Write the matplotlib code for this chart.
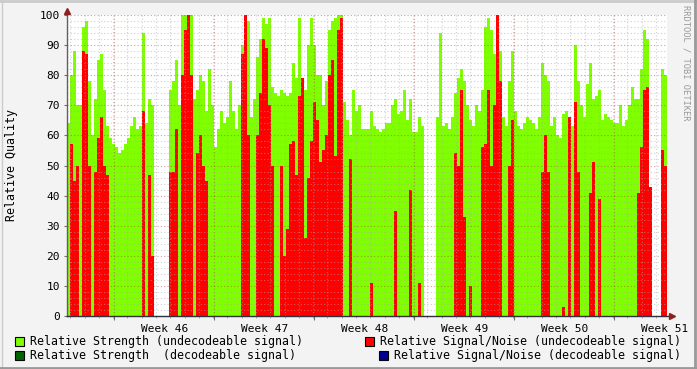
import numpy as np
import matplotlib
matplotlib.use('Agg')
import matplotlib.pyplot as plt
from matplotlib.patches import Rectangle
from matplotlib.lines import Line2D
import matplotlib.transforms as mtransforms

nan = np.nan

# Relative Strength (undecodeable signal), one value per ~5h bin
strength_undec = [
    64, 80, 88, 70, 70, 96, 98, 78, 60, 72,
    85, 87, 75, 63, 59, 57, 56, 54, 55, 57,
    59, 63, 66, 62, 63, 94, 64, 72, 70, nan,
    nan, nan, nan, nan, 75, 78, 85, 70, 100, 100,
    100, 100, 72, 75, 80, 78, 68, 82, 70, 56,
    62, 68, 64, 66, 78, 68, 62, 70, 90, 100,
    98, 66, 72, 86, 92, 99, 97, 99, 76, 74,
    73, 75, 74, 73, 74, 84, 79, 99, 79, 75,
    90, 99, 90, 80, 80, 70, 78, 95, 98, 99,
    100, 100, 71, 65, 60, 75, 68, 70, 62, 62,
    62, 68, 63, 62, 61, 62, 64, 64, 70, 72,
    67, 68, 75, 65, 72, 61, 61, 66, 63, nan,
    nan, nan, nan, 66, 94, 63, 64, 62, 66, 74,
    79, 82, 78, 70, 65, 63, 70, 68, 75, 96,
    99, 95, 87, 100, 88, 66, 63, 78, 88, 68,
    63, 62, 64, 66, 65, 64, 62, 66, 84, 80,
    78, 63, 66, 60, 59, 67, 68, 62, 63, 90,
    78, 70, 66, 77, 84, 72, 73, 75, 65, 67,
    66, 65, 64, 64, 70, 63, 65, 70, 76, 72,
    72, 82, 95, 92, 43, nan, nan, nan, 82, 80,
]

# Relative Signal/Noise (undecodeable signal)
snr_undec = [
    0, 57, 45, 50, 0, 88, 87, 50, 0, 48,
    59, 66, 50, 47, 0, 0, 0, 0, 0, 0,
    0, 0, 0, 0, 0, 68, 0, 47, 20, 0,
    0, 0, 0, 0, 48, 48, 62, 0, 80, 95,
    100, 80, 0, 54, 60, 50, 45, 0, 0, 0,
    0, 0, 0, 0, 0, 0, 0, 0, 87, 100,
    60, 0, 0, 60, 74, 92, 89, 70, 50, 0,
    0, 50, 20, 29, 57, 58, 47, 73, 79, 26,
    46, 58, 71, 65, 51, 55, 60, 80, 85, 53,
    95, 99, 0, 0, 52, 0, 0, 0, 0, 0,
    0, 11, 0, 0, 0, 0, 0, 0, 0, 35,
    0, 0, 0, 0, 42, 0, 0, 11, 0, 0,
    0, 0, 0, 0, 0, 0, 0, 0, 0, 54,
    50, 75, 33, 0, 10, 0, 0, 0, 56, 57,
    75, 50, 70, 100, 78, 0, 0, 50, 65, 0,
    0, 0, 0, 0, 0, 0, 0, 0, 48, 60,
    48, 0, 0, 0, 0, 3, 0, 66, 0, 71,
    48, 0, 0, 0, 41, 51, 0, 39, 0, 0,
    0, 0, 0, 0, 0, 0, 0, 0, 0, 0,
    41, 56, 75, 76, 43, 0, 0, 0, 55, 50,
]

week_labels = ['Week 46', 'Week 47', 'Week 48', 'Week 49', 'Week 50', 'Week 51']
legend_labels = [
    'Relative Strength (undecodeable signal)',
    'Relative Signal/Noise (undecodeable signal)',
    'Relative Strength  (decodeable signal)',
    'Relative Signal/Noise (decodeable signal)',
]

SPAN_DAYS = 42.0
FIRST_WEEK_LABEL = 6.86   # days from left edge
FIRST_MAJOR_GRID = 3.27
FIRST_MINOR_GRID = 0.23

BACK = '#f3f3f3'
GREEN = '#80ff00'
RED = '#ff0000'
DGREEN = '#006400'
BLUE = '#000090'
ARROW = '#8b2020'
MONO = 'DejaVu Sans Mono'

plt.rcParams['font.family'] = MONO

fig = plt.figure(figsize=(6.97, 3.69), dpi=100, facecolor=BACK)
ax = fig.add_axes([67 / 697, 53 / 369, 600 / 697, 301 / 369])
ax.set_facecolor('white')

bw = SPAN_DAYS / len(strength_undec)
x = np.arange(len(strength_undec)) * bw
ax.bar(x, strength_undec, width=bw, align='edge', color=GREEN,
       linewidth=0, antialiased=False, zorder=1)
ax.bar(x, snr_undec, width=bw, align='edge', color=RED,
       linewidth=0, antialiased=False, zorder=1.5)

ax.set_xlim(0, SPAN_DAYS)
ax.set_ylim(0, 100)

# grid
ax.set_yticks(np.arange(0, 101, 10))
ax.set_yticks(np.arange(0, 101, 2), minor=True)
ax.set_xticks(np.arange(FIRST_MAJOR_GRID, SPAN_DAYS, 7))
ax.set_xticks(np.arange(FIRST_MINOR_GRID, SPAN_DAYS, 1), minor=True)
ax.set_axisbelow(False)
ax.grid(which='minor', color='#a8a8a8', alpha=0.55, linestyle=(0, (1, 2)), linewidth=0.8)
ax.grid(which='major', color='#b04040', alpha=0.5, linestyle=(0, (1, 2)), linewidth=0.8)
ax.set_xticklabels([])
ax.tick_params(axis='x', which='major', length=3, color='#707070')
ax.tick_params(axis='x', which='minor', length=1.5, color='#a0a0a0')
ax.tick_params(axis='y', which='major', length=2, color='#707070', labelsize=8, pad=3)
ax.tick_params(axis='y', which='minor', length=0)
for s in ax.spines.values():
    s.set_visible(False)

# axes with arrows
ax.plot([0, 0], [0, 1.008], transform=ax.transAxes, color='#606060', lw=1,
        clip_on=False, zorder=5)
ax.plot([0, 1.008], [0, 0], transform=ax.transAxes, color='#303040', lw=1,
        clip_on=False, zorder=5)
ax.plot(0, 1.013, marker='^', color=ARROW, ms=5, transform=ax.transAxes,
        clip_on=False, zorder=6)
ax.plot(1.008, 0, marker='>', color=ARROW, ms=5, transform=ax.transAxes,
        clip_on=False, zorder=6)

# week labels
trans = mtransforms.blended_transform_factory(ax.transData, ax.transAxes)
for i, lab in enumerate(week_labels):
    ax.text(FIRST_WEEK_LABEL + 7 * i, -0.025, lab, transform=trans,
            ha='center', va='top', fontsize=8)

fig.text(12 / 697, 1 - 165 / 369, 'Relative Quality', rotation=90,
         ha='center', va='center', fontsize=8.4)

# legend
def legend_item(xs, y, color, text):
    fig.patches.append(Rectangle((xs / 697, y - 4.5 / 369), 9 / 697, 9 / 369,
                                 transform=fig.transFigure, facecolor=color,
                                 edgecolor='black', linewidth=0.8))
    fig.text((xs + 15) / 697, y, text, fontsize=8.4, va='center', ha='left')

legend_item(15, (369 - 341) / 369, GREEN, legend_labels[0])
legend_item(365, (369 - 341) / 369, RED, legend_labels[1])
legend_item(15, (369 - 355) / 369, DGREEN, legend_labels[2])
legend_item(379, (369 - 355) / 369, BLUE, legend_labels[3])

fig.text(686 / 697, 1 - 5 / 369, 'RRDTOOL / TOBI OETIKER', rotation=270,
         ha='center', va='top', fontsize=6.3, color='#999999')

# frame shading
fig.add_artist(Line2D([0, 1], [0.997, 0.997], transform=fig.transFigure, color='#cbcbcb', lw=2))
fig.add_artist(Line2D([0.003, 0.003], [0, 1], transform=fig.transFigure, color='#cbcbcb', lw=1))
fig.add_artist(Line2D([0, 1], [0.003, 0.003], transform=fig.transFigure, color='#999999', lw=2))
fig.add_artist(Line2D([0.9975, 0.9975], [0, 1], transform=fig.transFigure, color='#999999', lw=2))

fig.savefig('out.png', dpi=100, facecolor=BACK)
